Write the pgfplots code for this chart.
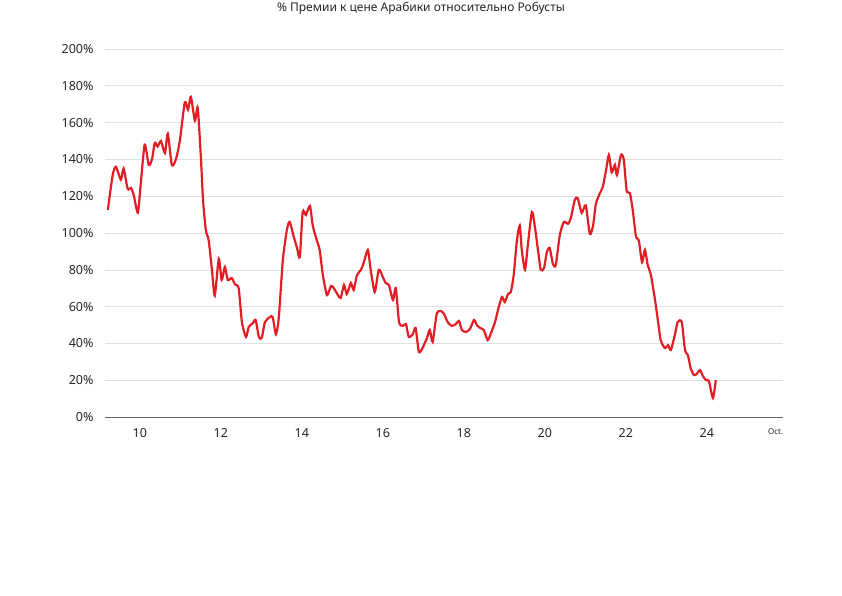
\documentclass[border=0pt]{standalone}
\usepackage{pgfplots}
\pgfplotsset{compat=1.18}
\usepackage{fontspec}
\setmainfont{Noto Sans}
\begin{document}
\begin{tikzpicture}
\path[use as bounding box] (0,0) rectangle (842pt,595pt);
\node[font=\fontsize{12}{14}\selectfont, text=black!85] at (421pt,587pt) {\% Премии к цене Арабики относительно Робусты};
\begin{axis}[at={(105pt,178pt)}, anchor=south west, scale only axis,
 width=678pt, height=368pt,
 xmin=9.14, xmax=25.88, ymin=0, ymax=200,
 axis x line*=bottom, axis y line*=left,
 y axis line style={draw=none},
 x axis line style={black!60, line width=0.8pt, -},
 xtick={10,12,14,16,18,20,22,24}, xticklabels={10,12,14,16,18,20,22,24},
 ytick={0,20,...,200}, yticklabel={\pgfmathprintnumber{\tick}\%},
 ymajorgrids, grid style={black!12, line width=0.6pt},
 major tick length=0pt,
 xticklabel shift=8pt, yticklabel shift=8pt,
 tick label style={font=\fontsize{12.5}{14}\selectfont, text=black!85},
 /pgf/number format/assume math mode=true,
 clip=false,
 extra x ticks={25.7}, extra x tick labels={\textbf{Oct.}},
 extra x tick style={tick label style={font=\fontsize{8}{10}\selectfont}, grid=none},
]
\addplot[color={rgb,255:red,226;green,30;blue,36}, line width=2.2pt, smooth, tension=0.4] coordinates {
(9.21,112.5)(9.33,131.5)(9.41,136)(9.53,129)(9.60,135)(9.70,124)(9.78,124.5)(9.85,120.6)(9.95,111)(10.02,126)
(10.12,148)(10.22,137)(10.30,140)(10.37,149)(10.44,147)(10.52,150)(10.62,143.5)(10.69,154)(10.79,137)(10.89,140)
(10.99,150.5)(11.11,171)(11.19,167)(11.26,174)(11.36,161)(11.43,168)(11.51,140)(11.56,118)(11.63,101.6)(11.70,96)
(11.78,80)(11.85,66)(11.95,86)(12.02,74.5)(12.10,81.5)(12.17,74.5)(12.27,75.5)(12.35,72)(12.44,70)(12.52,51.6)
(12.62,43.5)(12.69,49)(12.79,51)(12.86,52.7)(12.94,43.5)(13.01,43)(13.09,51.6)(13.21,54.3)(13.28,54.3)(13.36,45)
(13.43,53.8)(13.53,85)(13.63,101.6)(13.70,106)(13.80,98)(13.88,92)(13.95,87)(14.02,111.4)(14.10,109.8)(14.20,114.7)
(14.27,104)(14.37,96)(14.44,90.8)(14.52,77)(14.62,66.3)(14.72,71.2)(14.79,70)(14.89,66.3)(14.96,64.7)(15.04,71.7)
(15.11,66.8)(15.21,72.8)(15.28,69)(15.36,77)(15.46,80)(15.53,84)(15.63,90.8)(15.70,80)(15.80,68)(15.90,80)
(16.0,76)(16.07,72.8)(16.15,71.7)(16.25,63.6)(16.32,70)(16.40,51.6)(16.49,49.5)(16.57,50.5)(16.64,43.5)(16.74,45)
(16.81,48.4)(16.89,35.3)(16.99,38)(17.09,43)(17.16,47.3)(17.23,40.8)(17.33,56)(17.43,57.6)(17.51,56)(17.60,51.6)
(17.70,49.5)(17.80,50.5)(17.88,52.2)(17.95,47.3)(18.05,46.2)(18.15,47.8)(18.25,52.7)(18.32,50)(18.40,48.4)(18.49,47.3)
(18.59,41.8)(18.67,45.6)(18.77,51.6)(18.84,58)(18.94,65.2)(19.01,62.5)(19.09,66.8)(19.16,68)(19.23,77)(19.31,96)
(19.38,104)(19.43,90.8)(19.51,80)(19.58,93.5)(19.68,111.4)(19.75,104)(19.83,90.8)(19.90,80)(19.98,81)(20.05,89.7)
(20.12,91.8)(20.20,83)(20.27,82.6)(20.37,99)(20.47,106)(20.57,105)(20.64,108)(20.74,118)(20.81,119)(20.91,111)
(21.01,115)(21.11,99.5)(21.19,104)(21.26,115.8)(21.36,121.7)(21.43,125)(21.51,134)(21.58,142.4)(21.65,133)(21.73,137)
(21.78,131.5)(21.88,142.4)(21.95,139.7)(22.02,123)(22.10,121.7)(22.17,112.5)(22.25,98)(22.32,96)(22.40,84)(22.47,90.8)
(22.54,82.6)(22.62,77)(22.72,63.6)(22.79,52.7)(22.86,41.8)(22.96,37.5)(23.04,39)(23.11,36.4)(23.21,44.6)(23.28,51.6)
(23.38,51.6)(23.46,36.4)(23.53,33.7)(23.60,26.6)(23.68,22.8)(23.75,23.4)(23.83,25.5)(23.90,22.3)(23.98,20)(24.05,19.6)
(24.15,10.3)(24.22,20)
};
\end{axis}
\end{tikzpicture}
\end{document}
